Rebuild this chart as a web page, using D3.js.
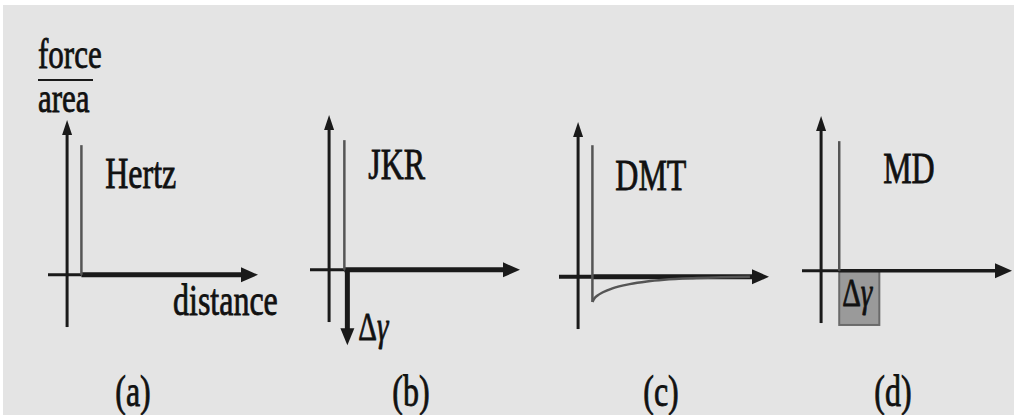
<!DOCTYPE html>
<html>
<head>
<meta charset="utf-8">
<script src="https://cdn.jsdelivr.net/npm/d3@7"></script>
<style>
  html, body { margin: 0; padding: 0; background: #ffffff; }
  svg { display: block; }
</style>
</head>
<body>
<svg id="chart" width="1014" height="415"></svg>
<script>
// Contact-mechanics models: force per area versus separation distance
const models = ["Hertz", "JKR", "DMT", "MD"];
const captions = ["(a)", "(b)", "(c)", "(d)"];
// separation at which the repulsive wall sits (distance units)
const contactDistance = [0.75, 0.8, 0.75, 0.95];
// height of the repulsive wall (force units)
const wallHeight = [6.7, 6.7, 6.8, 6.7];
// JKR: adhesive jump at contact
const jkrJump = -3.9;
// DMT: long-range attractive tail
const dmtDistance = [0.75, 0.85, 1.0, 1.3, 1.8, 2.7, 3.6, 4.5, 6.0, 7.5, 9.0];
const dmtForce    = [-1.3, -1.12, -0.98, -0.8, -0.6, -0.38, -0.24, -0.15, -0.07, -0.03, 0];
// MD: square attractive well
const mdWellEnd = 3.05;
const mdWellDepth = -2.8;

// panel layout (pixel origin of each set of axes)
const origins = [[67, 275], [329, 270], [578, 277], [821, 271]];
const nameAnchor = [[2.0, 4.5], [2.05, 4.7], [1.95, 4.5], [3.25, 4.56]];
const captionX = [133, 411, 661, 893];
const STRETCH = 1.38;
const FONT = "'Liberation Serif', 'Times New Roman', serif";

const svg = d3.select("#chart");
svg.append("rect").attr("x", 3).attr("y", 5).attr("width", 1011).attr("height", 410).attr("fill", "#e4e4e4");

const x = d3.scaleLinear().domain([-1, 10]).range([-19, 191]);
const y = d3.scaleLinear().domain([-2.75, 8]).range([53, -155]);

const AXIS = "#1a1a1a";
const WALL = "#555555";

function stretchedText(g, px, py, size, anchor) {
  return g.append("text")
    .attr("transform", `translate(${px},${py}) scale(1,${STRETCH})`)
    .attr("font-family", FONT)
    .attr("font-size", size)
    .attr("fill", "#111")
    .attr("stroke", "#111")
    .attr("stroke-width", 0.6)
    .attr("text-anchor", anchor || "start");
}

models.forEach((name, i) => {
  const [ox, oy] = origins[i];
  const g = svg.append("g").attr("transform", `translate(${ox},${oy})`);
  const z0 = contactDistance[i];

  // MD well sits beneath the axes
  if (name === "MD") {
    g.append("rect")
      .attr("x", x(z0)).attr("y", y(0))
      .attr("width", x(mdWellEnd) - x(z0)).attr("height", y(mdWellDepth) - y(0))
      .attr("fill", "#9a9a9a").attr("stroke", "#6a6a6a").attr("stroke-width", 2);
  }

  // vertical axis with arrow
  g.append("line").attr("x1", x(0)).attr("x2", x(0)).attr("y1", y(-2.7)).attr("y2", y(8) + 10)
    .attr("stroke", AXIS).attr("stroke-width", 3);
  g.append("path").attr("d", `M${x(0)},${y(8)} L${x(0) - 5},${y(8) + 15} L${x(0) + 5},${y(8) + 15} Z`)
    .attr("fill", AXIS);

  // horizontal axis
  const thickAxis = name !== "MD";
  const leftWidth = name === "DMT" ? 4 : 3;
  g.append("line").attr("x1", x(-1)).attr("x2", x(z0)).attr("y1", y(0)).attr("y2", y(0))
    .attr("stroke", AXIS).attr("stroke-width", leftWidth);
  g.append("line").attr("x1", x(z0)).attr("x2", x(10) - 12).attr("y1", y(0)).attr("y2", y(0))
    .attr("stroke", AXIS).attr("stroke-width", thickAxis ? 5 : 3.5);
  g.append("path").attr("d", `M${x(10)},${y(0)} L${x(10) - 17},${y(0) - 7.5} L${x(10) - 17},${y(0) + 7.5} Z`)
    .attr("fill", AXIS);

  // repulsive wall
  const wallBottom = name === "DMT" ? dmtForce[0] : 0;
  g.append("line").attr("x1", x(z0)).attr("x2", x(z0)).attr("y1", y(wallHeight[i])).attr("y2", y(wallBottom))
    .attr("stroke", WALL).attr("stroke-width", 2.5);

  if (name === "JKR") {
    g.append("line").attr("x1", x(z0) + 3).attr("x2", x(z0) + 3).attr("y1", y(0)).attr("y2", y(jkrJump) - 14)
      .attr("stroke", AXIS).attr("stroke-width", 5);
    g.append("path")
      .attr("d", `M${x(z0) + 3},${y(jkrJump)} L${x(z0) - 4},${y(jkrJump) - 17} L${x(z0) + 10},${y(jkrJump) - 17} Z`)
      .attr("fill", AXIS);
    const t = stretchedText(g, x(z0) + 14, y(jkrJump) - 5, 29);
    t.append("tspan").text("Δ");
    t.append("tspan").attr("font-style", "italic").text("γ");
  }

  if (name === "DMT") {
    const line = d3.line().x(d => x(d[0])).y(d => y(d[1])).curve(d3.curveMonotoneX);
    g.append("path").datum(d3.zip(dmtDistance, dmtForce))
      .attr("d", line).attr("fill", "none").attr("stroke", WALL).attr("stroke-width", 2.5);
  }

  if (name === "MD") {
    const t = stretchedText(g, x(z0) + 3, y(mdWellDepth) - 19, 29);
    t.append("tspan").text("Δ");
    t.append("tspan").attr("font-style", "italic").text("γ");
  }

  // model name
  stretchedText(g, x(nameAnchor[i][0]), y(nameAnchor[i][1]), 32).text(name);

  // panel caption
  stretchedText(svg, captionX[i], 406, 32, "middle").text(captions[i]);
});

// axis titles
stretchedText(svg, 173, 315, 32).text("distance");
stretchedText(svg, 38, 68, 31).text("force");
svg.append("line").attr("x1", 38).attr("x2", 93).attr("y1", 80).attr("y2", 80)
  .attr("stroke", AXIS).attr("stroke-width", 2);
stretchedText(svg, 38, 112, 31).text("area");
</script>
</body>
</html>
